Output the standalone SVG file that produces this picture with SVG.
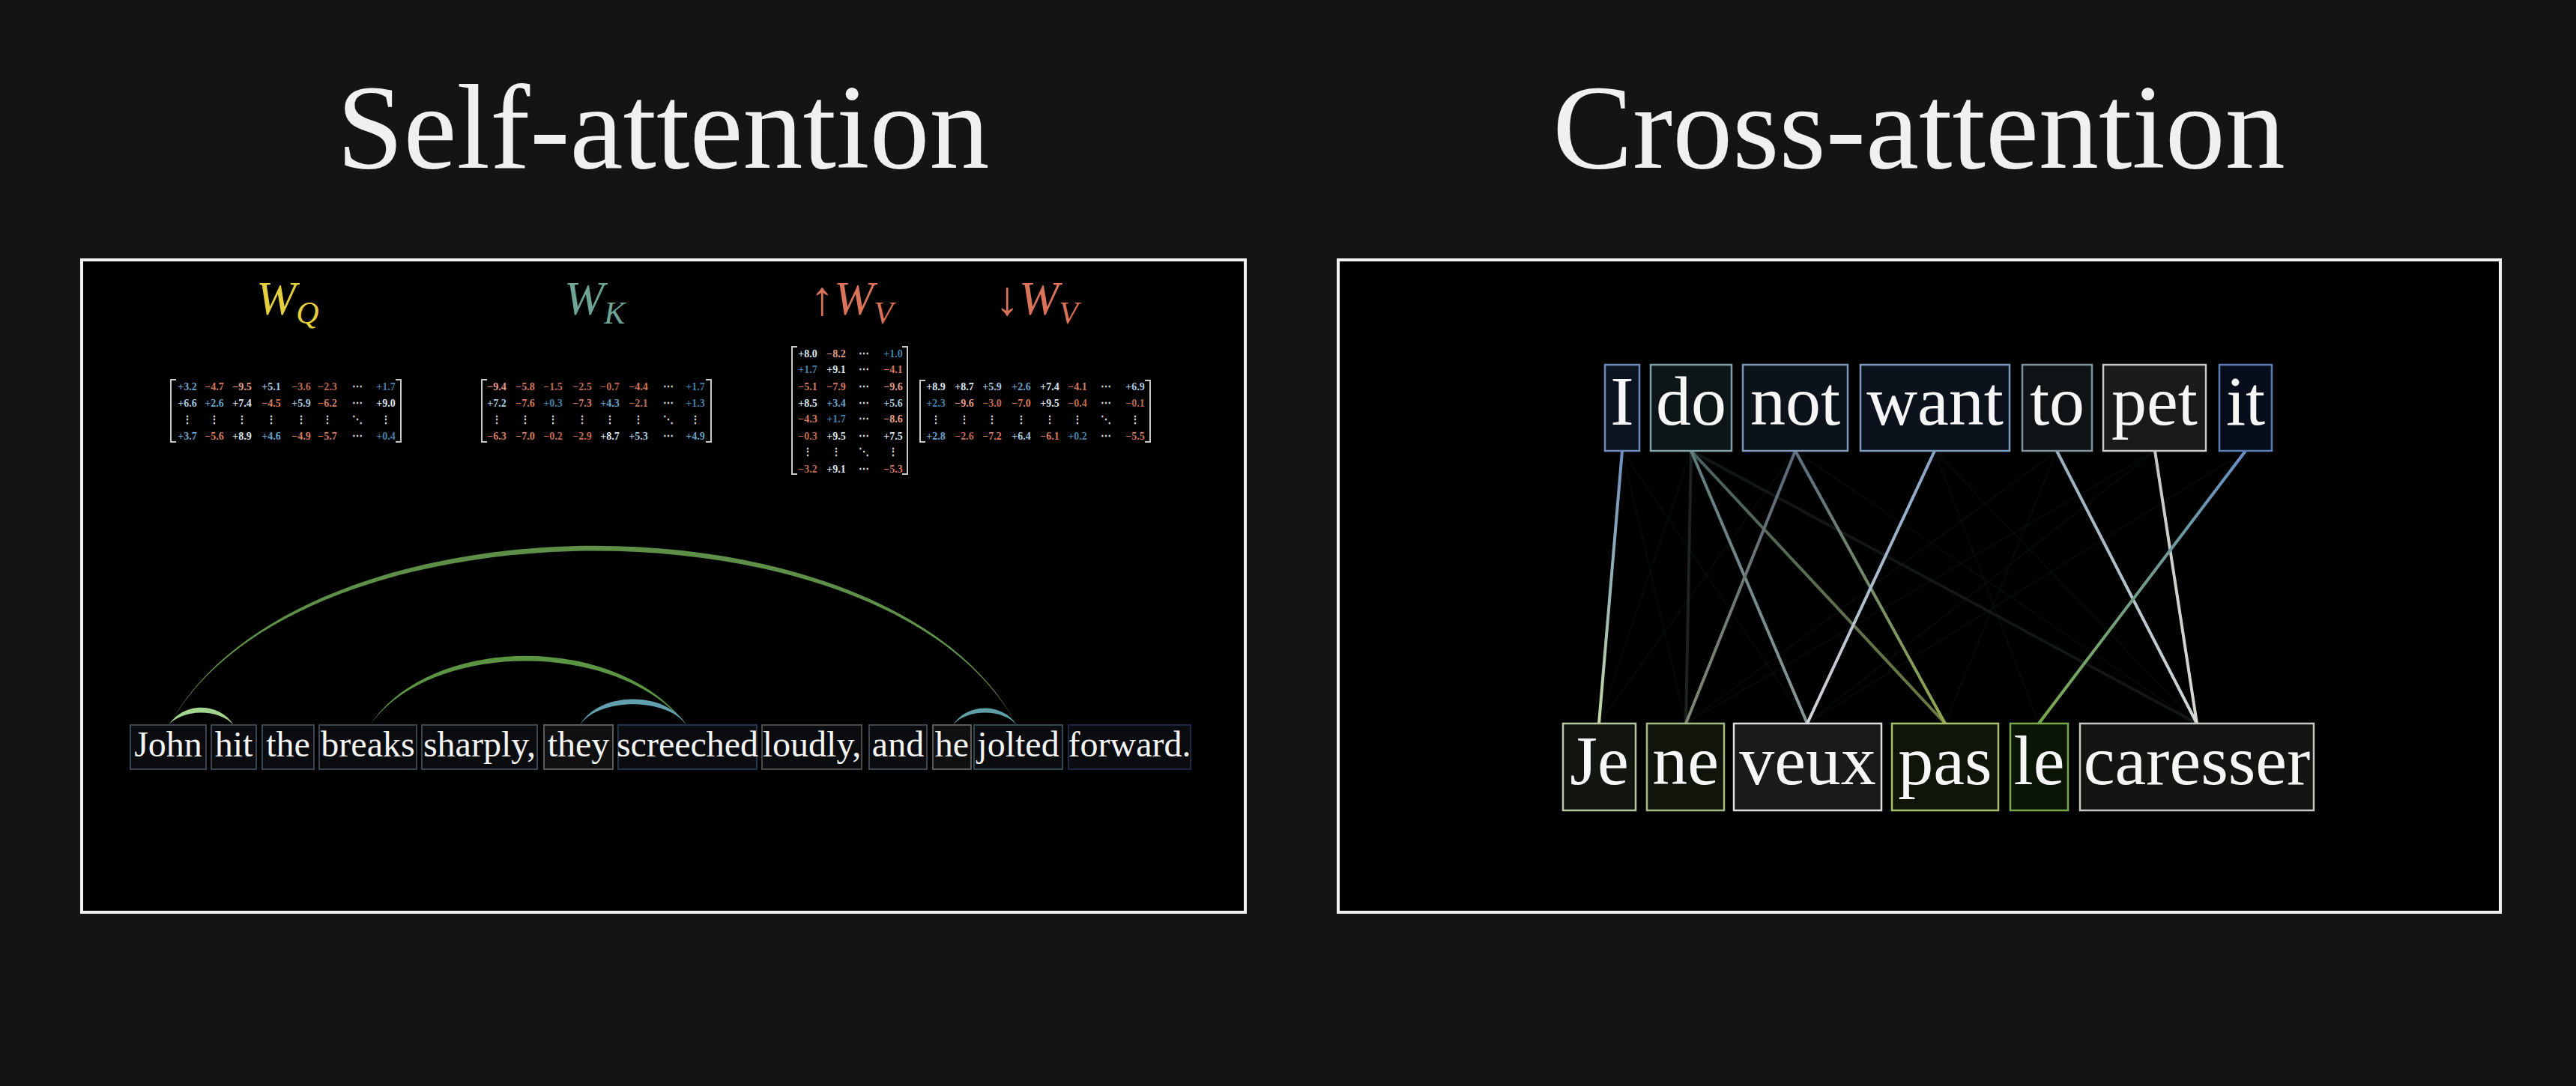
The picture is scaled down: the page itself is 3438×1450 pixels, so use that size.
<svg xmlns="http://www.w3.org/2000/svg" width="3438" height="1450" viewBox="0 0 3438 1450">
<defs>
<style>
.title{font-family:"Liberation Serif","DejaVu Serif",serif;font-size:160px;fill:#f0f0f0;text-anchor:middle}
.frame{fill:#000;stroke:#f2f2f2;stroke-width:4}
.wl{font-family:"Liberation Serif","DejaVu Serif",serif;font-style:italic;font-size:64px}
.sub{font-size:42px}
.m{font-family:"Liberation Serif","DejaVu Serif",serif;font-weight:bold;font-size:14px;text-anchor:middle}
.br{fill:none;stroke:#c8c8c8;stroke-width:2}
.pa{fill:#dbe6ec}.pb{fill:#a5c9df}.pc{fill:#69a2c7}.pd{fill:#4680a6}
.na{fill:#e69d86}.nb{fill:#d47b61}.nc{fill:#bd6a52}
.dt{fill:#dcdcdc}
.sw{font-family:"Liberation Serif","DejaVu Serif",serif;font-size:48px;fill:#f4f4f4;text-anchor:middle}
.sbox{fill:#0a0c10;stroke-width:2}
.cw{font-family:"Liberation Serif","DejaVu Serif",serif;font-size:94px;fill:#f6f6f6;text-anchor:middle}
.cbox{stroke-width:2.5}
.cl{fill:none;stroke-width:4;stroke-linecap:butt}
.faint{fill:none;stroke:#6a7a70;stroke-width:3;opacity:0.05}
</style>
<linearGradient id="gIJe" gradientUnits="userSpaceOnUse" x1="0" y1="602" x2="0" y2="966"><stop offset="0" stop-color="#6f8fc2"/><stop offset="1" stop-color="#c2d8a6"/></linearGradient>
<linearGradient id="gDoVeux" gradientUnits="userSpaceOnUse" x1="0" y1="602" x2="0" y2="966"><stop offset="0" stop-color="#5f7a7c"/><stop offset="1" stop-color="#8a9898"/></linearGradient>
<linearGradient id="gDoPas" gradientUnits="userSpaceOnUse" x1="0" y1="602" x2="0" y2="966"><stop offset="0" stop-color="#4a6060"/><stop offset="1" stop-color="#6c7a40"/></linearGradient>
<linearGradient id="gNotNe" gradientUnits="userSpaceOnUse" x1="0" y1="602" x2="0" y2="966"><stop offset="0" stop-color="#5c6878"/><stop offset="1" stop-color="#7d8670"/></linearGradient>
<linearGradient id="gNotPas" gradientUnits="userSpaceOnUse" x1="0" y1="602" x2="0" y2="966"><stop offset="0" stop-color="#5d6e84"/><stop offset="1" stop-color="#8fa84e"/></linearGradient>
<linearGradient id="gWantVeux" gradientUnits="userSpaceOnUse" x1="0" y1="602" x2="0" y2="966"><stop offset="0" stop-color="#86a4c6"/><stop offset="1" stop-color="#d4d4d4"/></linearGradient>
<linearGradient id="gToCar" gradientUnits="userSpaceOnUse" x1="0" y1="602" x2="0" y2="966"><stop offset="0" stop-color="#98afbf"/><stop offset="1" stop-color="#d2d8d6"/></linearGradient>
<linearGradient id="gPetCar" gradientUnits="userSpaceOnUse" x1="0" y1="602" x2="0" y2="966"><stop offset="0" stop-color="#c6c6c6"/><stop offset="1" stop-color="#d8d8d0"/></linearGradient>
<linearGradient id="gItLe" gradientUnits="userSpaceOnUse" x1="0" y1="602" x2="0" y2="966"><stop offset="0" stop-color="#6a90c8"/><stop offset="1" stop-color="#78a84c"/></linearGradient>
</defs>

<rect x="0" y="0" width="3438" height="1450" fill="#141414"/>

<text class="title" x="885" y="224">Self-attention</text>
<text class="title" x="2561" y="224">Cross-attention</text>

<rect id="self-frame" class="frame" x="109" y="347" width="1553" height="871"/>
<rect id="cross-frame" class="frame" x="1786" y="347" width="1551" height="871"/>

<!-- Weight labels -->
<g id="label-WQ"><text class="wl" x="342" y="420" fill="#e6cf3e">W<tspan class="sub" dy="12">Q</tspan></text></g>
<g id="label-WK"><text class="wl" x="753" y="420" fill="#6fa597">W<tspan class="sub" dy="12">K</tspan></text></g>
<g id="label-WVup"><text class="wl" x="1081" y="420" fill="#d9735a"><tspan font-style="normal">↑</tspan>W<tspan class="sub" dy="12">V</tspan></text></g>
<g id="label-WVdown"><text class="wl" x="1328" y="420" fill="#d9735a"><tspan font-style="normal">↓</tspan>W<tspan class="sub" dy="12">V</tspan></text></g>

<!-- W_Q matrix -->
<g id="matrix-WQ" class="m">
<path class="br" d="M235,507 H228 V590 H235 M528,507 H535 V590 H528"/>
<text y="521"><tspan x="250" class="pc">+3.2</tspan><tspan x="286" class="nb">−4.7</tspan><tspan x="323" class="na">−9.5</tspan><tspan x="362" class="pb">+5.1</tspan><tspan x="402" class="nc">−3.6</tspan><tspan x="437" class="nc">−2.3</tspan><tspan x="477" class="dt">⋯</tspan><tspan x="515" class="pd">+1.7</tspan></text>
<text y="543"><tspan x="250" class="pb">+6.6</tspan><tspan x="286" class="pc">+2.6</tspan><tspan x="323" class="pa">+7.4</tspan><tspan x="362" class="nb">−4.5</tspan><tspan x="402" class="pb">+5.9</tspan><tspan x="437" class="nb">−6.2</tspan><tspan x="477" class="dt">⋯</tspan><tspan x="515" class="pa">+9.0</tspan></text>
<text y="565" class="dt"><tspan x="250">⋮</tspan><tspan x="286">⋮</tspan><tspan x="323">⋮</tspan><tspan x="362">⋮</tspan><tspan x="402">⋮</tspan><tspan x="437">⋮</tspan><tspan x="477">⋱</tspan><tspan x="515">⋮</tspan></text>
<text y="587"><tspan x="250" class="pc">+3.7</tspan><tspan x="286" class="nb">−5.6</tspan><tspan x="323" class="pa">+8.9</tspan><tspan x="362" class="pc">+4.6</tspan><tspan x="402" class="nb">−4.9</tspan><tspan x="437" class="nb">−5.7</tspan><tspan x="477" class="dt">⋯</tspan><tspan x="515" class="pd">+0.4</tspan></text>
</g>

<!-- W_K matrix -->
<g id="matrix-WK" class="m">
<path class="br" d="M650,507 H643 V590 H650 M942,507 H949 V590 H942"/>
<text y="521"><tspan x="663" class="na">−9.4</tspan><tspan x="701" class="nb">−5.8</tspan><tspan x="738" class="nc">−1.5</tspan><tspan x="777" class="nc">−2.5</tspan><tspan x="814" class="nc">−0.7</tspan><tspan x="852" class="nb">−4.4</tspan><tspan x="892" class="dt">⋯</tspan><tspan x="928" class="pd">+1.7</tspan></text>
<text y="543"><tspan x="663" class="pb">+7.2</tspan><tspan x="701" class="nb">−7.6</tspan><tspan x="738" class="pd">+0.3</tspan><tspan x="777" class="nb">−7.3</tspan><tspan x="814" class="pc">+4.3</tspan><tspan x="852" class="nc">−2.1</tspan><tspan x="892" class="dt">⋯</tspan><tspan x="928" class="pd">+1.3</tspan></text>
<text y="565" class="dt"><tspan x="663">⋮</tspan><tspan x="701">⋮</tspan><tspan x="738">⋮</tspan><tspan x="777">⋮</tspan><tspan x="814">⋮</tspan><tspan x="852">⋮</tspan><tspan x="892">⋱</tspan><tspan x="928">⋮</tspan></text>
<text y="587"><tspan x="663" class="nb">−6.3</tspan><tspan x="701" class="nb">−7.0</tspan><tspan x="738" class="nc">−0.2</tspan><tspan x="777" class="nc">−2.9</tspan><tspan x="814" class="pa">+8.7</tspan><tspan x="852" class="pb">+5.3</tspan><tspan x="892" class="dt">⋯</tspan><tspan x="928" class="pc">+4.9</tspan></text>
</g>

<!-- up W_V matrix -->
<g id="matrix-WVup" class="m">
<path class="br" d="M1064,463 H1057 V633 H1064 M1204,463 H1211 V633 H1204"/>
<text y="477"><tspan x="1078" class="pa">+8.0</tspan><tspan x="1116" class="na">−8.2</tspan><tspan x="1153" class="dt">⋯</tspan><tspan x="1192" class="pd">+1.0</tspan></text>
<text y="498"><tspan x="1078" class="pd">+1.7</tspan><tspan x="1116" class="pa">+9.1</tspan><tspan x="1153" class="dt">⋯</tspan><tspan x="1192" class="nb">−4.1</tspan></text>
<text y="521"><tspan x="1078" class="nb">−5.1</tspan><tspan x="1116" class="nb">−7.9</tspan><tspan x="1153" class="dt">⋯</tspan><tspan x="1192" class="na">−9.6</tspan></text>
<text y="543"><tspan x="1078" class="pa">+8.5</tspan><tspan x="1116" class="pc">+3.4</tspan><tspan x="1153" class="dt">⋯</tspan><tspan x="1192" class="pb">+5.6</tspan></text>
<text y="564"><tspan x="1078" class="nb">−4.3</tspan><tspan x="1116" class="pd">+1.7</tspan><tspan x="1153" class="dt">⋯</tspan><tspan x="1192" class="na">−8.6</tspan></text>
<text y="587"><tspan x="1078" class="nc">−0.3</tspan><tspan x="1116" class="pa">+9.5</tspan><tspan x="1153" class="dt">⋯</tspan><tspan x="1192" class="pa">+7.5</tspan></text>
<text y="608" class="dt"><tspan x="1078">⋮</tspan><tspan x="1116">⋮</tspan><tspan x="1153">⋱</tspan><tspan x="1192">⋮</tspan></text>
<text y="631"><tspan x="1078" class="nc">−3.2</tspan><tspan x="1116" class="pa">+9.1</tspan><tspan x="1153" class="dt">⋯</tspan><tspan x="1192" class="nb">−5.3</tspan></text>
</g>

<!-- down W_V matrix -->
<g id="matrix-WVdown" class="m">
<path class="br" d="M1235,508 H1228 V590 H1235 M1528,508 H1535 V590 H1528"/>
<text y="521"><tspan x="1249" class="pa">+8.9</tspan><tspan x="1287" class="pa">+8.7</tspan><tspan x="1324" class="pb">+5.9</tspan><tspan x="1363" class="pc">+2.6</tspan><tspan x="1401" class="pa">+7.4</tspan><tspan x="1438" class="nb">−4.1</tspan><tspan x="1476" class="dt">⋯</tspan><tspan x="1515" class="pb">+6.9</tspan></text>
<text y="543"><tspan x="1249" class="pd">+2.3</tspan><tspan x="1287" class="na">−9.6</tspan><tspan x="1324" class="nc">−3.0</tspan><tspan x="1363" class="nb">−7.0</tspan><tspan x="1401" class="pa">+9.5</tspan><tspan x="1438" class="nc">−0.4</tspan><tspan x="1476" class="dt">⋯</tspan><tspan x="1515" class="nc">−0.1</tspan></text>
<text y="565" class="dt"><tspan x="1249">⋮</tspan><tspan x="1287">⋮</tspan><tspan x="1324">⋮</tspan><tspan x="1363">⋮</tspan><tspan x="1401">⋮</tspan><tspan x="1438">⋮</tspan><tspan x="1476">⋱</tspan><tspan x="1515">⋮</tspan></text>
<text y="587"><tspan x="1249" class="pc">+2.8</tspan><tspan x="1287" class="nc">−2.6</tspan><tspan x="1324" class="nb">−7.2</tspan><tspan x="1363" class="pb">+6.4</tspan><tspan x="1401" class="nb">−6.1</tspan><tspan x="1438" class="pd">+0.2</tspan><tspan x="1476" class="dt">⋯</tspan><tspan x="1515" class="nb">−5.5</tspan></text>
</g>

<!-- Self-attention arcs -->
<g id="self-arcs">
<path fill="#5e8f48" d="M226,968 C400,649 1190,649 1357,968 C1190,658 400,658 226,968 Z"/>
<path fill="#5b9442" d="M494,968 C575,845 826,845 916,968 C826,854 575,854 494,968 Z"/>
<path fill="#a3d58e" d="M225,968 C245,937 292,937 312,968 C292,946 245,946 225,968 Z"/>
<path fill="#62a0b0" d="M774,968 C800,922 890,922 916,968 C890,931 800,931 774,968 Z"/>
<path fill="#5e9ea6" d="M1272,968 C1290,938 1339,938 1357,968 C1339,946 1290,946 1272,968 Z"/>
</g>

<!-- Self-attention words -->
<g id="w-John"><rect class="sbox" x="174" y="968" width="101" height="59" stroke="#3a4552"/><text class="sw" x="224.5" y="1010">John</text></g>
<g id="w-hit"><rect class="sbox" x="282" y="968" width="60" height="59" stroke="#3a4552"/><text class="sw" x="312" y="1010">hit</text></g>
<g id="w-the"><rect class="sbox" x="350" y="968" width="69" height="59" stroke="#3a4552"/><text class="sw" x="384.5" y="1010">the</text></g>
<g id="w-breaks"><rect class="sbox" x="426" y="968" width="130" height="59" stroke="#3a4552"/><text class="sw" x="491" y="1010">breaks</text></g>
<g id="w-sharply"><rect class="sbox" x="563" y="968" width="154" height="59" stroke="#3a4552"/><text class="sw" x="640" y="1010">sharply,</text></g>
<g id="w-they"><rect class="sbox" x="726" y="968" width="92" height="59" stroke="#5a5a5a" style="fill:#101010"/><text class="sw" x="772" y="1010">they</text></g>
<g id="w-screeched"><rect class="sbox" x="825" y="968" width="185" height="59" stroke="#24344c"/><text class="sw" x="917.5" y="1010">screeched</text></g>
<g id="w-loudly"><rect class="sbox" x="1017" y="968" width="133" height="59" stroke="#4a4a4a"/><text class="sw" x="1083.5" y="1010">loudly,</text></g>
<g id="w-and"><rect class="sbox" x="1160" y="968" width="77" height="59" stroke="#3e4650"/><text class="sw" x="1198.5" y="1010">and</text></g>
<g id="w-he"><rect class="sbox" x="1245" y="968" width="51" height="59" stroke="#5a5a5a" style="fill:#101010"/><text class="sw" x="1270.5" y="1010">he</text></g>
<g id="w-jolted"><rect class="sbox" x="1300" y="968" width="118" height="59" stroke="#2f4a52"/><text class="sw" x="1359" y="1010">jolted</text></g>
<g id="w-forward"><rect class="sbox" x="1426" y="968" width="163" height="59" stroke="#1e2744"/><text class="sw" x="1507.5" y="1010">forward.</text></g>

<!-- Cross-attention connectors -->
<g id="cross-connectors">
<line class="faint" x1="2257" y1="602" x2="2134" y2="966"/>
<line class="faint" x1="2165" y1="602" x2="2412" y2="966"/>
<line class="faint" x1="2396" y1="602" x2="2932" y2="966"/>
<line class="faint" x1="2582" y1="602" x2="2932" y2="966"/>
<line class="faint" x1="2876" y1="602" x2="2250" y2="966"/>
<line class="faint" x1="2876" y1="602" x2="2412" y2="966"/>
<line class="faint" x1="2745" y1="602" x2="2596" y2="966"/>
<line class="faint" x1="2997" y1="602" x2="2412" y2="966"/>
<line class="faint" x1="2582" y1="602" x2="2721" y2="966"/>
<line class="faint" x1="2396" y1="602" x2="2134" y2="966"/>
<line class="faint" x1="2165" y1="602" x2="2250" y2="966"/>
<line class="faint" x1="2745" y1="602" x2="2250" y2="966"/>
<line class="cl" x1="2257" y1="602" x2="2932" y2="966" stroke="#3a4a44" opacity="0.3"/>
<line class="cl" x1="2257" y1="602" x2="2250" y2="966" stroke="#3e4e46" opacity="0.45"/>
<line class="cl" x1="2257" y1="602" x2="2596" y2="966" stroke="url(#gDoPas)"/>
<line class="cl" x1="2257" y1="602" x2="2412" y2="966" stroke="url(#gDoVeux)"/>
<line class="cl" x1="2396" y1="602" x2="2250" y2="966" stroke="url(#gNotNe)"/>
<line class="cl" x1="2396" y1="602" x2="2596" y2="966" stroke="url(#gNotPas)"/>
<line class="cl" x1="2165" y1="602" x2="2134" y2="966" stroke="url(#gIJe)"/>
<line class="cl" x1="2582" y1="602" x2="2412" y2="966" stroke="url(#gWantVeux)"/>
<line class="cl" x1="2745" y1="602" x2="2932" y2="966" stroke="url(#gToCar)"/>
<line class="cl" x1="2876" y1="602" x2="2932" y2="966" stroke="url(#gPetCar)"/>
<line class="cl" x1="2997" y1="602" x2="2721" y2="966" stroke="url(#gItLe)"/>
</g>

<!-- Cross-attention English words -->
<g id="c-I"><rect class="cbox" x="2142" y="487" width="46" height="115" fill="#0c1420" stroke="#6d8bbd"/><text class="cw" x="2165" y="567">I</text></g>
<g id="c-do"><rect class="cbox" x="2203" y="487" width="108" height="115" fill="#0d1518" stroke="#7ea2a6"/><text class="cw" x="2257" y="567">do</text></g>
<g id="c-not"><rect class="cbox" x="2326" y="487" width="140" height="115" fill="#0c1219" stroke="#8096b6"/><text class="cw" x="2396" y="567">not</text></g>
<g id="c-want"><rect class="cbox" x="2483" y="487" width="199" height="115" fill="#0b121c" stroke="#7d9ac0"/><text class="cw" x="2582.5" y="567">want</text></g>
<g id="c-to"><rect class="cbox" x="2699" y="487" width="93" height="115" fill="#0f1316" stroke="#7f949e"/><text class="cw" x="2745.5" y="567">to</text></g>
<g id="c-pet"><rect class="cbox" x="2807" y="487" width="137" height="115" fill="#1a1a1a" stroke="#c8c8c8"/><text class="cw" x="2875.5" y="567">pet</text></g>
<g id="c-it"><rect class="cbox" x="2962" y="487" width="70" height="115" fill="#070d1a" stroke="#5a7db5"/><text class="cw" x="2997" y="567">it</text></g>

<!-- Cross-attention French words -->
<g id="c-Je"><rect class="cbox" x="2086" y="966" width="97" height="116" fill="#121510" stroke="#b8c8a0"/><text class="cw" x="2134.5" y="1047">Je</text></g>
<g id="c-ne"><rect class="cbox" x="2198" y="966" width="103" height="116" fill="#10140a" stroke="#a5b888"/><text class="cw" x="2249.5" y="1047">ne</text></g>
<g id="c-veux"><rect class="cbox" x="2314" y="966" width="197" height="116" fill="#1a1a1a" stroke="#e0e0e0"/><text class="cw" x="2412.5" y="1047">veux</text></g>
<g id="c-pas"><rect class="cbox" x="2525" y="966" width="142" height="116" fill="#0f1508" stroke="#a8c070"/><text class="cw" x="2596" y="1047">pas</text></g>
<g id="c-le"><rect class="cbox" x="2683" y="966" width="77" height="116" fill="#0a1505" stroke="#7aa850"/><text class="cw" x="2721.5" y="1047">le</text></g>
<g id="c-caresser"><rect class="cbox" x="2776" y="966" width="312" height="116" fill="#141412" stroke="#c8c8c0"/><text class="cw" x="2932" y="1047">caresser</text></g>
</svg>
